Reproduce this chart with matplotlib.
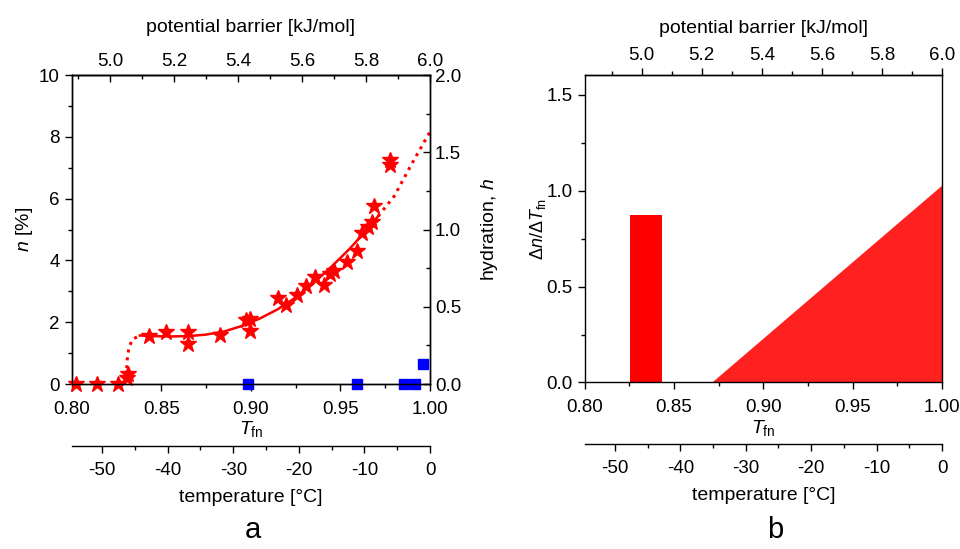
import numpy as np
import matplotlib
matplotlib.use("Agg")
import matplotlib.pyplot as plt
from matplotlib.ticker import MultipleLocator

plt.rcParams['font.family'] = ['Liberation Sans', 'DejaVu Sans']
plt.rcParams['mathtext.fontset'] = 'custom'
plt.rcParams['mathtext.rm'] = 'Liberation Sans'
plt.rcParams['mathtext.it'] = 'Liberation Sans:italic'
plt.rcParams['axes.linewidth'] = 1.0
plt.rcParams['axes.unicode_minus'] = False

# panel a: measured points (T_fn, n [%])
star_tfn = [0.8022, 0.8143, 0.8258, 0.8314, 0.8310, 0.8431, 0.8528, 0.8649, 0.8649,
            0.8829, 0.8970, 0.8994, 0.8994, 0.9153, 0.9196, 0.9255, 0.9307, 0.9357,
            0.9408, 0.9441, 0.9465, 0.9534, 0.9590, 0.9618, 0.9655, 0.9674, 0.9687,
            0.9776, 0.9776]
star_n = [0.0, 0.0, 0.0, 0.32, 0.21, 1.54, 1.67, 1.67, 1.31,
          1.58, 2.07, 2.10, 1.72, 2.77, 2.56, 2.88, 3.17, 3.47,
          3.19, 3.55, 3.66, 3.95, 4.31, 4.88, 5.07, 5.25, 5.76,
          7.25, 7.09]

# hydration (right axis)
hyd_tfn = [0.8986, 0.9591, 0.9855, 0.9917, 0.9958]
hyd_h = [0.0, 0.0, 0.0, 0.0, 0.13]

# fitted curve
fit_tfn = [0.838, 0.845, 0.855, 0.865, 0.875, 0.885, 0.895, 0.905, 0.915,
           0.925, 0.935, 0.945, 0.955, 0.963, 0.971]
fit_n = [1.57, 1.55, 1.54, 1.55, 1.60, 1.70, 1.88, 2.12, 2.42,
         2.80, 3.27, 3.80, 4.37, 4.88, 5.43]
ext_tfn = [0.971, 0.980, 0.990, 1.000]
ext_n = [5.43, 6.08, 7.15, 8.17]
step_tfn = [0.8295, 0.8305, 0.831, 0.832, 0.834, 0.838]
step_n = [0.0, 0.35, 0.8, 1.2, 1.45, 1.57]

# panel b: dn/dT_fn
bar_left, bar_right, bar_height = 0.8252, 0.8435, 0.874
ramp_tfn = [0.8709, 1.0]
ramp_val = [0.0, 1.03]

red = '#ff0000'
blue = '#0000ff'
fs_tick = 13.5
fs_lab = 14

fig = plt.figure(figsize=(9.6, 5.49), dpi=100)
axa = fig.add_axes([0.0747, 0.3005, 0.3733, 0.5628])
axb = fig.add_axes([0.6089, 0.3033, 0.3724, 0.5592])


def t_fwd(x):
    return (np.asarray(x) - 1.0) * 273.15


def t_inv(t):
    return 1.0 + np.asarray(t) / 273.15


def style_temp(ax):
    sec = ax.secondary_xaxis(-0.2, functions=(t_fwd, t_inv))
    sec.set_xticks([-50, -40, -30, -20, -10, 0])
    sec.xaxis.set_minor_locator(MultipleLocator(5))
    sec.tick_params(which='major', direction='out', length=5, width=1,
                    labelsize=fs_tick, pad=6.5)
    sec.tick_params(which='minor', direction='out', length=3, width=1)
    sec.set_xlabel('temperature [°C]', fontsize=fs_lab, labelpad=7)
    return sec


# ---------------- panel a ----------------
axa.plot(fit_tfn, fit_n, color=red, lw=1.8, zorder=2)
axa.plot(ext_tfn, ext_n, color=red, lw=2.2, ls=(0, (1, 1.6)), zorder=2)
axa.plot(step_tfn, step_n, color=red, lw=2.2, ls=(0, (1, 1.6)), zorder=2)
axa.plot(star_tfn, star_n, ls='none', marker='*', ms=12, color=red, mec=red,
         clip_on=False, zorder=3)
axa.set_xlim(0.8, 1.0)
axa.set_ylim(0, 10)
axa.set_xticks([0.80, 0.85, 0.90, 0.95, 1.00])
axa.set_xticklabels(['0.80', '0.85', '0.90', '0.95', '1.00'])
axa.xaxis.set_minor_locator(MultipleLocator(0.025))
axa.set_yticks([0, 2, 4, 6, 8, 10])
axa.yaxis.set_minor_locator(MultipleLocator(1))
axa.tick_params(which='major', direction='out', length=5, width=1, labelsize=fs_tick,
                top=False, right=False)
axa.tick_params(axis='x', which='major', pad=7)
axa.tick_params(which='minor', direction='out', length=3, width=1, top=False, right=False)
axa.set_xlabel(r'$T_{\rm fn}$', fontsize=fs_lab, labelpad=1)
axa.set_ylabel(r'$n$ [%]', fontsize=fs_lab, labelpad=3)

axh = axa.twinx()
axh.plot(hyd_tfn, hyd_h, ls='none', marker='s', ms=7, color=blue, clip_on=False)
axh.set_ylim(0, 2.0)
axh.set_yticks([0.0, 0.5, 1.0, 1.5, 2.0])
axh.set_yticklabels(['0.0', '0.5', '1.0', '1.5', '2.0'])
axh.yaxis.set_minor_locator(MultipleLocator(0.25))
axh.tick_params(which='major', direction='in', length=5, width=1, labelsize=fs_tick)
axh.tick_params(which='minor', direction='in', length=3, width=1)
axh.set_ylabel('hydration, $h$', fontsize=fs_lab, labelpad=13)

ea = 5.6
topa = axa.secondary_xaxis('top', functions=(lambda x: 6.0 - (1.0 - np.asarray(x)) * ea,
                                             lambda e: 1.0 - (6.0 - np.asarray(e)) / ea))
topa.set_xticks([5.0, 5.2, 5.4, 5.6, 5.8, 6.0])
topa.set_xticklabels(['5.0', '5.2', '5.4', '5.6', '5.8', '6.0'])
topa.xaxis.set_minor_locator(MultipleLocator(0.1))
topa.tick_params(which='major', direction='in', length=5, width=1, labelsize=fs_tick)
topa.tick_params(which='minor', direction='in', length=3, width=1)
topa.set_xlabel('potential barrier [kJ/mol]', fontsize=fs_lab, labelpad=15)

style_temp(axa)
fig.text(0.263, 0.02, 'a', fontsize=21, ha='center')

# ---------------- panel b ----------------
axb.bar([bar_left], [bar_height], width=bar_right - bar_left, align='edge',
        color=red, lw=0)
axb.fill_between(ramp_tfn, ramp_val, 0, color='#ff2020', lw=0)
axb.set_xlim(0.8, 1.0)
axb.set_ylim(0, 1.6)
axb.set_xticks([0.80, 0.85, 0.90, 0.95, 1.00])
axb.set_xticklabels(['0.80', '0.85', '0.90', '0.95', '1.00'])
axb.xaxis.set_minor_locator(MultipleLocator(0.025))
axb.set_yticks([0.0, 0.5, 1.0, 1.5])
axb.set_yticklabels(['0.0', '0.5', '1.0', '1.5'])
axb.yaxis.set_minor_locator(MultipleLocator(0.25))
axb.tick_params(which='major', direction='out', length=5, width=1, labelsize=fs_tick,
                top=False, right=False)
axb.tick_params(axis='x', which='major', pad=7)
axb.tick_params(which='minor', direction='out', length=3, width=1, top=False, right=False)
axb.set_xlabel(r'$T_{\rm fn}$', fontsize=fs_lab, labelpad=1)
axb.set_ylabel(r'$\Delta n/\Delta T_{\rm fn}$', fontsize=13, labelpad=-1)

eb = 5.95
topb = axb.secondary_xaxis('top', functions=(lambda x: 6.0 - (1.0 - np.asarray(x)) * eb,
                                             lambda e: 1.0 - (6.0 - np.asarray(e)) / eb))
topb.set_xticks([5.0, 5.2, 5.4, 5.6, 5.8, 6.0])
topb.set_xticklabels(['5.0', '5.2', '5.4', '5.6', '5.8', '6.0'])
topb.xaxis.set_minor_locator(MultipleLocator(0.1))
topb.tick_params(which='major', direction='out', length=5, width=1, labelsize=fs_tick)
topb.tick_params(which='minor', direction='out', length=3, width=1)
topb.set_xlabel('potential barrier [kJ/mol]', fontsize=fs_lab, labelpad=10)

style_temp(axb)
fig.text(0.808, 0.02, 'b', fontsize=21, ha='center')

fig.savefig('out.png', dpi=100)
